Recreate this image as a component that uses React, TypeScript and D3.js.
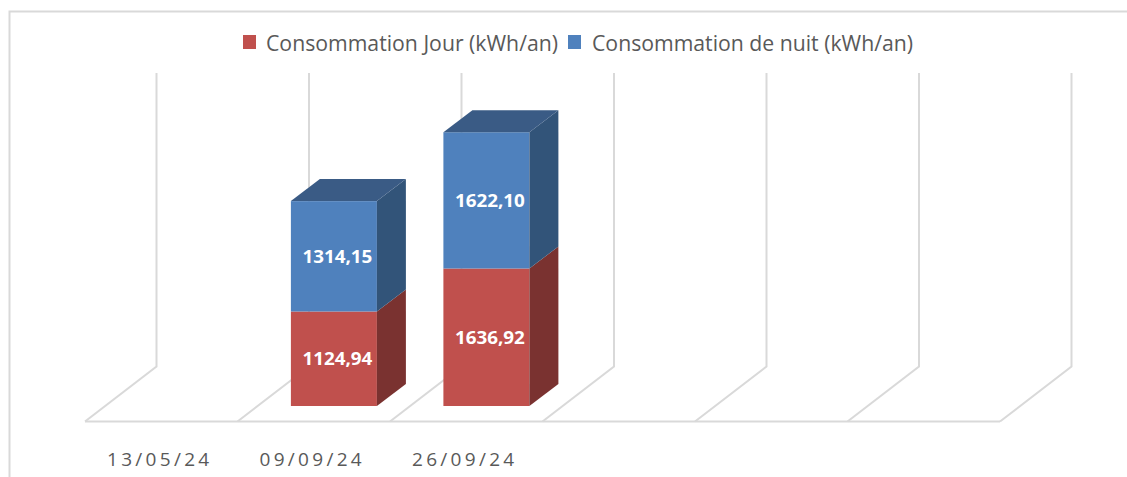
import * as d3 from "d3";

const WIDTH = 1127;
const HEIGHT = 477;

const categories = ["13/05/24", "09/09/24", "26/09/24", "", "", ""];
const jourValues = [0, 1124.94, 1636.92, 0, 0, 0];
const nuitValues = [0, 1314.15, 1622.1, 0, 0, 0];
const seriesNames = ["Consommation Jour (kWh/an)", "Consommation de nuit (kWh/an)"];

const FONT = "'Open Sans', sans-serif";
const GRID = "#d9d9d9";
const TEXT = "#595959";
const COLORS = [
  { front: "#c0504d", side: "#7a3230", top: "#8a3a38" },
  { front: "#4f81bd", side: "#325479", top: "#3a5b85" },
];

// floor of the 3D box
const FLOOR_FRONT = 421.5;
const WALL_TOP = 73;
const BOX_DX = 71.5;
const BOX_DY = 55;
const BAR_BASE = 406;
const BAR_DX = 29;
const BAR_DY = 22;

const xScale = d3
  .scaleBand()
  .domain(categories.map((_, i) => String(i)))
  .range([85, 1000])
  .paddingInner(0)
  .paddingOuter(0);

const yScale = d3.scaleLinear().domain([0, 3500]).range([BAR_BASE, BAR_BASE - 294]);

const fr = (v: number) => d3.format(".2f")(v).replace(".", ",");
const pts = (p: number[][]) => p.map((d) => d.join(",")).join(" ");

const stacked = d3
  .stack<number>()
  .keys(["jour", "nuit"])
  .value((i, key) => (key === "jour" ? jourValues[i] : nuitValues[i]))(categories.map((_, i) => i));

export default function App() {
  const step = xScale.step();
  const dividers = d3.range(categories.length + 1).map((i) => 85 + i * step);
  const barWidth = 86;
  // bars sit part way into the floor, along the diagonal
  const barShift = ((FLOOR_FRONT - BAR_BASE) / BOX_DY) * BOX_DX;

  return (
    <svg
      width={WIDTH}
      height={HEIGHT}
      style={{ position: "absolute", left: 0, top: 0, background: "#fff" }}
    >
      <path d={`M9.5,${HEIGHT}V11.5H${WIDTH}`} fill="none" stroke={GRID} strokeWidth={2} />

      <g fill={TEXT} fontFamily={FONT} fontSize={21}>
        <rect x={243} y={35} width={13} height={14} fill={COLORS[0].front} />
        <text x={266} y={50.5} textLength={292} lengthAdjust="spacingAndGlyphs">
          {seriesNames[0]}
        </text>
        <rect x={568} y={35} width={13} height={14} fill={COLORS[1].front} />
        <text x={592} y={50.5} textLength={321} lengthAdjust="spacingAndGlyphs">
          {seriesNames[1]}
        </text>
      </g>

      <g fill="none" stroke={GRID} strokeWidth={2}>
        <line x1={85} x2={1000} y1={FLOOR_FRONT} y2={FLOOR_FRONT} />
        {dividers.map((x) => (
          <polyline
            key={x}
            points={pts([
              [x, FLOOR_FRONT],
              [x + BOX_DX, FLOOR_FRONT - BOX_DY],
              [x + BOX_DX, WALL_TOP],
            ])}
          />
        ))}
      </g>

      {categories.map((c, i) => {
        if (!jourValues[i] && !nuitValues[i]) return null;
        const x0 = xScale(String(i))! + (step - barWidth) / 2 + barShift;
        const x1 = x0 + barWidth;
        return (
          <g key={c}>
            {stacked.map((layer, s) => {
              const yTop = yScale(layer[i][1]);
              const yBot = yScale(layer[i][0]);
              const color = COLORS[s];
              return (
                <g key={layer.key}>
                  <rect x={x0} y={yTop} width={barWidth} height={yBot - yTop} fill={color.front} />
                  <polygon
                    fill={color.side}
                    points={pts([
                      [x1, yTop],
                      [x1 + BAR_DX, yTop - BAR_DY],
                      [x1 + BAR_DX, yBot - BAR_DY],
                      [x1, yBot],
                    ])}
                  />
                  {s === stacked.length - 1 && (
                    <polygon
                      fill={color.top}
                      points={pts([
                        [x0, yTop],
                        [x0 + BAR_DX, yTop - BAR_DY],
                        [x1 + BAR_DX, yTop - BAR_DY],
                        [x1, yTop],
                      ])}
                    />
                  )}
                  <text
                    x={(x0 + x1) / 2 + 3.5}
                    y={(yTop + yBot) / 2 + 6.5}
                    textAnchor="middle"
                    fill="#fff"
                    fontFamily={FONT}
                    fontWeight={700}
                    fontSize={18.5}
                    textLength={70}
                    lengthAdjust="spacingAndGlyphs"
                  >
                    {fr(layer[i][1] - layer[i][0])}
                  </text>
                </g>
              );
            })}
          </g>
        );
      })}

      <g fill={TEXT} fontFamily={FONT} fontSize={19} textAnchor="middle" letterSpacing={3.3}>
        {categories.map((c, i) =>
          c ? (
            <text key={c} x={xScale(String(i))! + step / 2 - 1.5} y={465.5}>
              {c}
            </text>
          ) : null
        )}
      </g>
    </svg>
  );
}
